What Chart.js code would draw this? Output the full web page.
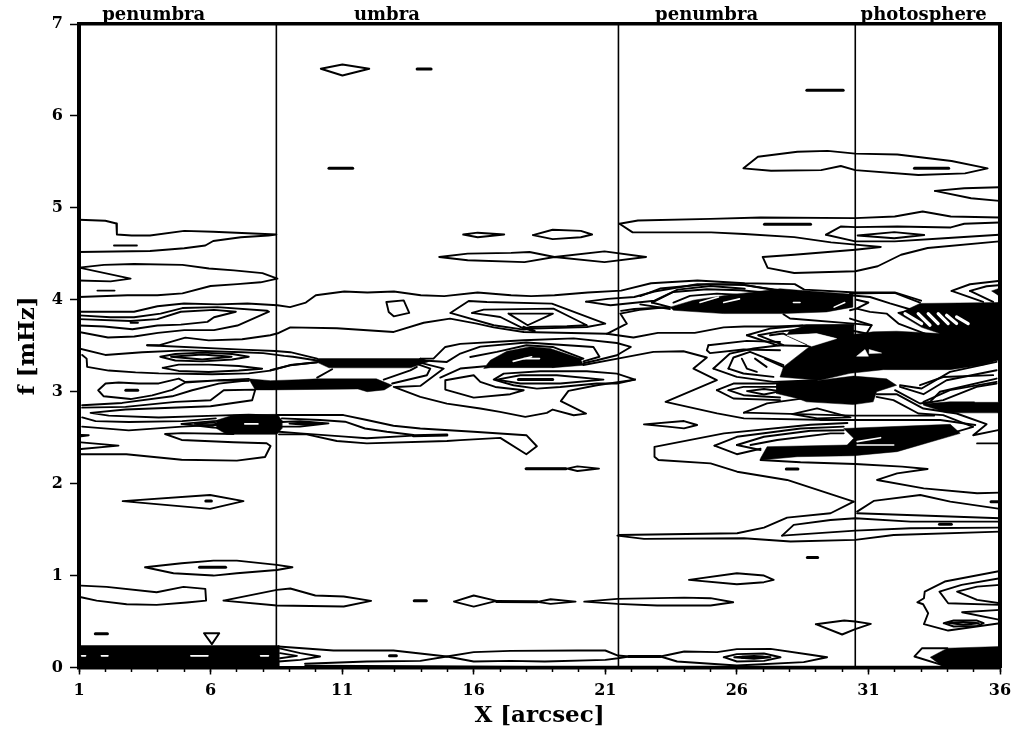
<!DOCTYPE html>
<html>
<head>
<meta charset="utf-8">
<title>f [mHz] vs X [arcsec]</title>
<script src="https://cdn.jsdelivr.net/npm/chart.js@4"></script>
<style>
  html, body { margin: 0; padding: 0; background: #fff; }
  canvas { display: block; }
</style>
</head>
<body>
<canvas id="contour-chart" width="1022" height="730"></canvas>
<script>
const xTicks = [1, 6, 11, 16, 21, 26, 31, 36];
const xMinorTicks = [1,2,3,4,5,6,7,8,9,10,11,12,13,14,15,16,17,18,19,20,21,22,23,24,25,26,27,28,29,30,31,32,33,34,35,36];
const yTicks = [0, 1, 2, 3, 4, 5, 6, 7];
const regionNames = ['penumbra', 'umbra', 'penumbra', 'photosphere'];
const regionCentres = [3.84, 12.7, 24.85, 33.1];
const regionBoundaries = [8.5, 21.5, 30.5];

// contour lines, each one a list of [X arcsec, f mHz]
const penumbraLeftLines = [
  [[1,4.87],[2,4.86],[2.42,4.83],[2.44,4.71],[3,4.7],[3.7,4.7],[5,4.75],[6.1,4.74],[8.5,4.71],[8.2,4.7],[7.15,4.68],[6.1,4.64],[5.8,4.59],[5,4.56],[3.7,4.53],[1,4.52]],
  [[2.33,4.59],[3.2,4.59]],
  [[1,4.35],[1.95,4.38],[3.09,4.39],[4.93,4.38],[5.94,4.34],[6.89,4.32],[7.97,4.29],[8.54,4.23],[7.9,4.19],[7.02,4.17],[6,4.15],[4.93,4.07],[3.98,4.05],[2.84,4.05],[1,4.03]],
  [[1,4.35],[2.96,4.23],[2.2,4.2],[1,4.21]],
  [[1.7,4.1],[2.35,4.1]],
  [[1,3.83],[2.2,3.81],[3.09,3.81],[4.1,3.85],[4.93,3.91],[6.26,3.92],[8.16,3.88],[8.22,3.87],[7.02,3.72],[6.13,3.67],[5,3.67],[4,3.64],[3.1,3.6],[2.1,3.59],[1,3.65]],
  [[1,3.79],[2.96,3.77],[3.98,3.79],[4.87,3.87],[6.13,3.89],[6.96,3.87],[6.13,3.81],[5.88,3.76],[4.87,3.73],[3.98,3.72],[3.03,3.68],[1.95,3.71],[1,3.72]],
  [[2.96,3.75],[3.24,3.75]],
  [[1,3.47],[2,3.4],[3.4,3.43],[5,3.45],[7.2,3.43],[8,3.42],[8.8,3.39],[9.13,3.38],[10.05,3.34]],
  [[1.12,3.4],[1.29,3.36],[1.31,3.27],[2.13,3.23],[3.15,3.21],[4.03,3.2],[6.06,3.19],[7.45,3.2],[8.27,3.23],[9.03,3.29],[10.05,3.32]],
  [[4.09,3.38],[4.66,3.41],[5.68,3.425],[6.82,3.41],[7.45,3.38],[6.82,3.35],[5.68,3.33],[4.66,3.34],[4.09,3.38]],
  [[4.5,3.38],[5.68,3.405],[6.8,3.38],[5.68,3.35],[4.5,3.38]],
  [[4.18,3.26],[4.79,3.295],[5.93,3.295],[7.07,3.28],[7.96,3.25],[7.07,3.23],[5.93,3.215],[4.79,3.226],[4.18,3.26]],
  [[7.45,3.14],[5.04,3.106],[4.79,3.143],[4.03,3.09],[3.27,3.09],[2.51,3.1],[2.01,3.09],[1.73,3.016],[1.94,2.95],[2.96,2.92],[3.78,2.96],[4.54,3.02],[5.04,3.1],[6.31,3.125],[7.45,3.12]],
  [[1.12,2.853],[2.64,2.878],[4.54,2.95],[5.3,3.016],[6.31,3.088],[7.45,3.125]],
  [[1.12,2.827],[2.77,2.835],[4.67,2.889],[6,2.907],[6.5,3.016],[7.7,3.023],[7.58,2.907],[6,2.842],[2.77,2.806],[1.44,2.77],[2.13,2.74],[4.03,2.72],[6.2,2.74],[7.45,2.75],[8.59,2.74]],
  [[1.12,2.72],[1.63,2.68],[2.89,2.67],[4.92,2.68],[6.2,2.71]],
  [[1.12,2.62],[2.89,2.58],[4.92,2.62],[6.3,2.64]],
  [[4.9,2.65],[6.1,2.68],[6.9,2.69]],
  [[4.9,2.65],[6.1,2.61],[6.9,2.6]],
  [[5.4,2.65],[6.1,2.665],[6.3,2.65],[6.1,2.63],[5.4,2.65]],
  [[1.08,2.53],[1.37,2.527],[1.08,2.515]],
  [[1.08,2.449],[2.5,2.413],[1.08,2.377]],
  [[1.08,2.32],[2.8,2.32],[4.9,2.26],[7,2.25],[8.07,2.29],[8.28,2.41],[8.13,2.44],[6.87,2.45],[4.9,2.475],[4.27,2.54],[4.9,2.55],[6.87,2.54]],
  [[2.66,1.81],[5.98,1.877],[7.25,1.81],[5.98,1.725],[2.66,1.81]],
  [[3.51,1.09],[4.9,1.134],[6.11,1.163],[7,1.163],[8.52,1.116],[9.11,1.09],[8.52,1.06],[7,1.025],[6.11,1],[4.59,1.025],[3.51,1.09]],
  [[1.08,0.891],[2.05,0.877],[3.95,0.819],[4.97,0.877],[5.8,0.855],[5.83,0.728],[5.1,0.707],[3.95,0.681],[2.81,0.688],[1.67,0.728],[1.08,0.764]],
  [[5.75,0.373],[6.33,0.373],[6.05,0.254],[5.75,0.373]]
];

const umbraLines = [
  [[10.19,6.513],[11.01,6.56],[12.03,6.513],[11.01,6.44],[10.19,6.513]],
  [[15.6,4.71],[16.15,4.73],[17.16,4.71],[16.15,4.68],[15.6,4.71]],
  [[14.69,4.466],[15.77,4.502],[17.42,4.51],[18.12,4.52],[19.07,4.466],[20.97,4.527],[22.55,4.466],[20.97,4.41],[19.07,4.466],[17.93,4.41],[15.77,4.43],[14.69,4.466]],
  [[18.25,4.704],[19,4.762],[20.07,4.75],[20.5,4.71],[20.07,4.68],[19,4.66],[18.25,4.704]],
  [[1,3.87],[3.09,3.87],[3.98,3.93],[4.99,3.96],[6.26,3.95],[7.4,3.96],[8.54,3.94],[9.02,3.92],[9.62,3.97],[10,4.05],[11.08,4.09],[11.96,4.08],[12.97,4.09],[13.99,4.05],[14.88,4.04],[16.15,4.08],[17.42,4.05],[18.18,4.04],[19.07,4.05],[20.34,4.08],[21.6,4.1],[22.74,4.18],[24.5,4.21],[26.3,4.18],[28.2,4.17],[28.56,4.11],[30.5,4.08],[32,4.08],[33,3.99]],
  [[12.68,3.976],[13.34,3.994],[13.55,3.857],[12.96,3.82],[12.77,3.868],[12.68,3.976]],
  [[3.59,3.505],[4.03,3.505],[5.04,3.588],[5.93,3.559],[7.2,3.57],[8.27,3.614],[8.59,3.639],[9.03,3.7],[10.8,3.69],[12.96,3.65],[14.1,3.75],[15.1,3.795],[16.12,3.74],[16.76,3.7],[17.9,3.65],[21.06,3.63],[21.82,3.74],[21.57,3.85],[22.3,3.89],[23.4,3.92]],
  [[3.59,3.505],[7.2,3.458],[8.46,3.443],[9.03,3.43],[10.05,3.36]],
  [[15.11,3.857],[15.81,3.987],[16.5,3.976],[18.97,3.958],[21,3.741],[20.3,3.704],[18.27,3.686],[17.9,3.675],[16.76,3.723],[15.11,3.857]],
  [[15.93,3.857],[16.38,3.893],[19.03,3.904],[19.67,3.813],[20.3,3.723],[19.54,3.712],[18.15,3.704],[17.9,3.686],[17.01,3.813],[15.93,3.857]],
  [[17.32,3.85],[19.01,3.85],[18.05,3.723],[17.32,3.85]],
  [[13.97,3.36],[14.47,3.36],[14.92,3.487],[15.49,3.52],[17.9,3.56],[19.8,3.58],[21.44,3.53],[21.97,3.487],[21.44,3.397],[20.68,3.342],[20.17,3.31]],
  [[14.1,3.34],[14.98,3.324],[15.49,3.415],[16.25,3.49],[18,3.535],[20.55,3.487],[20.78,3.38],[20.17,3.33]],
  [[15.87,3.378],[16.88,3.434],[18,3.505],[19,3.487],[20.17,3.36],[19,3.27]],
  [[14.73,3.154],[15.49,3.252],[16.44,3.277]],
  [[20.17,3.29],[21.47,3.36],[22.83,3.433],[23.97,3.44],[24.86,3.372],[24.35,3.252],[25.24,3.125],[23.29,2.89],[25.25,2.764],[26.27,2.71],[29.56,2.692]],
  [[22.13,3.132],[21.44,3.197],[20.3,3.223],[18.53,3.223],[17.14,3.197],[16.76,3.132],[17.51,3.07],[18.4,3.034],[19.29,3.052],[20.68,3.089],[21.44,3.089],[22.13,3.132]],
  [[16.88,3.132],[17.77,3.179],[19.16,3.179],[20.93,3.132],[19.29,3.089],[17.77,3.089],[16.88,3.132]],
  [[22.13,3.132],[20.68,3.07],[19.6,3.009],[19.31,2.897],[20.27,2.762],[19.8,2.744],[19,2.806],[18.78,2.77],[17.96,2.726],[17,2.78],[16.25,2.817],[14.98,2.871],[13.97,2.944],[12.96,3.052]],
  [[14.92,3.125],[16,3.179],[16.25,3.107],[16.82,3.052],[17.9,3.016],[17.39,2.973],[16,2.936],[14.92,3.023],[14.92,3.125]],
  [[13.97,3.36],[14.22,3.33]],
  [[13.02,3.052],[13.97,3.063],[14.86,3.252],[13.84,3.324]],
  [[12.9,3.089],[14.22,3.179],[14.35,3.252],[13.72,3.313]],
  [[12.58,3.132],[13.59,3.233],[13.84,3.27]],
  [[10.05,3.154],[10.62,3.244]],
  [[8.27,3.233],[9.03,3.288],[10.05,3.32]],
  [[8.52,2.746],[11.05,2.746],[11.94,2.692],[12.95,2.63],[13.97,2.6],[16,2.565],[18,2.527],[18.4,2.407],[18,2.32],[17.01,2.498],[15.49,2.473],[14.98,2.464],[11.94,2.438],[10.8,2.464],[9.65,2.536],[8.6,2.536]],
  [[8.71,2.71],[10.16,2.692],[11.11,2.674],[11.87,2.6],[12.7,2.565],[13.71,2.529]],
  [[8.71,2.67],[9.4,2.68],[10.48,2.655],[9.4,2.62],[8.71,2.62]],
  [[9,2.655],[9.6,2.665],[10.2,2.655],[9.6,2.64],[9,2.655]],
  [[8.6,2.565],[9.41,2.547],[11.11,2.511],[11.94,2.493],[13.71,2.522]],
  [[17.97,2.163],[19.55,2.163],[19.94,2.188],[20.76,2.163],[19.94,2.138],[19.55,2.163]],
  [[6.49,0.728],[8.52,0.844],[9.03,0.859],[9.98,0.783],[11.06,0.772],[12.1,0.725],[11.06,0.663],[8.52,0.674],[6.49,0.728]],
  [[15.25,0.717],[16,0.783],[16.87,0.725],[16,0.663],[15.25,0.717]],
  [[18.42,0.714],[18.92,0.743],[19.87,0.717],[18.92,0.692],[18.42,0.714]],
  [[8.58,0.228],[10.67,0.185],[12.95,0.185],[14.98,0.12],[16,0.167],[17.4,0.181],[19.94,0.185],[21,0.185],[21.48,0.13],[21.9,0.12]],
  [[9.59,0.04],[11.94,0.065],[13.97,0.072],[14.98,0.12],[16,0.065],[17.4,0.072],[18.7,0.065],[21,0.083],[21.48,0.101],[21.9,0.12]],
  [[8.58,0.21],[9.41,0.156],[10.16,0.12],[9.41,0.083],[8.58,0.065]],
  [[8.64,0.156],[9.28,0.127],[8.64,0.101]],
  [[9.6,0.02],[18,0.01],[36,0.01]]
];

const penumbraRightLines = [
  [[20.27,3.98],[21.09,4.01],[22.1,4.03],[22.87,4.09],[24.5,4.17],[26.3,4.16],[28.2,4.08]],
  [[20.27,3.98],[21.2,3.94],[21.85,3.96],[22.87,3.99],[23.75,4.11],[25,4.15],[26.3,4.12]],
  [[22.33,4.04],[23.08,4.122],[24.86,4.169],[26.12,4.169],[27.64,4.096],[28.9,4.067]],
  [[22.77,3.97],[23.59,4.085],[24.86,4.114],[26.12,4.103],[27.64,4.067]],
  [[22.77,3.97],[23.46,3.92]],
  [[23.59,3.97],[24.22,4.042],[25.24,4.067],[26.38,4.05]],
  [[21.06,3.63],[22.07,3.59],[23,3.64],[24.4,3.64],[25.5,3.7],[26.28,3.71],[27.5,3.71],[28.5,3.72]],
  [[21.6,3.88],[22.1,3.9],[23.4,3.92]],
  [[22.33,3.95],[23.46,3.9]],
  [[21.54,4.827],[22.24,4.863],[25,4.88],[26.9,4.895],[30.5,4.888],[32,4.906],[33.06,4.96],[34.13,4.906],[35.97,4.895]],
  [[21.54,4.827],[22.04,4.733],[25.02,4.733],[26.28,4.715],[28.18,4.682],[29.58,4.625],[30.5,4.6],[31.47,4.574],[30.5,4.545],[28.18,4.49],[26.98,4.466],[27.17,4.347],[28.18,4.292],[30.5,4.31],[31.35,4.365],[32.24,4.49],[33.25,4.563],[35.97,4.635]],
  [[26.25,5.43],[26.8,5.556],[28.3,5.61],[29.45,5.62],[30.5,5.59],[32.1,5.58],[34.16,5.51],[35.53,5.43],[34.67,5.375],[32.9,5.357],[30.5,5.41],[29.95,5.455],[29.2,5.41],[27.3,5.404],[26.25,5.43]],
  [[24.92,3.506],[24.86,3.451],[24.98,3.42],[26.25,3.459],[27.64,3.451]],
  [[24.92,3.506],[26.38,3.553],[27.64,3.54]],
  [[26.38,3.614],[27.26,3.687],[28.65,3.723],[30.43,3.723]],
  [[26.38,3.614],[27.52,3.506],[28.84,3.495]],
  [[26.82,3.614],[27.52,3.651],[28.65,3.687]],
  [[26.82,3.614],[27.77,3.506]],
  [[27.26,3.614],[27.77,3.633],[28.65,3.517]],
  [[25.11,3.252],[25.74,3.415],[26.63,3.47],[27.64,3.506]],
  [[25.11,3.252],[26,3.162],[27.39,3.107],[29.03,3.125]],
  [[25.68,3.252],[25.87,3.372],[26.5,3.433],[27.77,3.288]],
  [[25.68,3.252],[26.25,3.198],[27.39,3.162]],
  [[26.19,3.36],[26.38,3.252],[26.76,3.216]],
  [[26.69,3.36],[27.13,3.27]],
  [[27.07,3.36],[27.77,3.27]],
  [[25.24,3.017],[25.87,3.089],[27.39,3.089],[29.03,3.125]],
  [[25.24,3.017],[25.87,2.926],[27.64,2.908]],
  [[25.68,3.017],[26.25,3.053],[27.64,3.053]],
  [[25.68,3.017],[26.25,2.962],[27.64,2.937]],
  [[26.39,3.007],[27.03,3.03],[27.66,3.007],[27.03,2.97],[26.39,3.007]],
  [[26.27,2.772],[27.15,2.873],[28.6,2.93]],
  [[26.27,2.772],[30.44,2.74],[33.5,2.74]],
  [[28.1,2.757],[29.05,2.819],[30.32,2.721],[29.05,2.71],[28.1,2.757]],
  [[22.47,2.645],[23.99,2.681],[24.49,2.638],[23.99,2.601],[23.37,2.62],[22.47,2.645]],
  [[30.44,1.804],[27.91,2.04],[26.01,2.13],[25,2.22],[23.02,2.257],[22.87,2.293],[22.87,2.4],[25.51,2.547],[28.8,2.64],[30.2,2.66]],
  [[25.15,2.413],[26,2.51],[28.42,2.6],[30.06,2.62]],
  [[25.15,2.413],[26,2.32],[26.9,2.38]],
  [[26,2.42],[27.03,2.51],[28.8,2.576],[30.06,2.58]],
  [[26,2.42],[26.9,2.366]],
  [[26.52,2.42],[27.53,2.475],[29.56,2.547],[30.06,2.547]],
  [[26.9,2.257],[28.42,2.232],[30.5,2.214],[32.28,2.185],[33.25,2.159],[32.09,2.112],[31.33,2.04],[33.1,1.949],[35.13,1.895],[36,1.902]],
  [[21.51,1.442],[26.01,1.46],[27.03,1.522],[27.91,1.63],[29.56,1.678],[30.44,1.804]],
  [[21.46,1.435],[22.47,1.399],[26.27,1.406],[28.04,1.37],[30.5,1.388],[31.96,1.442],[36,1.478]],
  [[27.72,1.435],[28.16,1.551],[29.56,1.605],[30.5,1.623],[32.6,1.587],[36,1.587]],
  [[27.72,1.435],[30.5,1.489],[32.6,1.514],[36,1.522]],
  [[20.2,0.717],[21.46,0.746],[24,0.76],[25,0.754],[25.86,0.71],[25,0.674],[22.97,0.674],[21.46,0.692],[20.2,0.717]],
  [[24.18,0.953],[26,1.025],[27.03,1],[27.4,0.953],[27.03,0.928],[26,0.906],[24.18,0.953]],
  [[29,0.471],[30.08,0.511],[30.5,0.5],[31.09,0.475],[30.5,0.417],[30,0.359],[29,0.471]],
  [[21.9,0.12],[23.1,0.12],[24,0.174],[25.25,0.167],[26,0.2],[27.28,0.203],[28.8,0.138],[29.43,0.112],[28.54,0.058],[26,0.022],[23.73,0.065],[23.1,0.12]],
  [[25.5,0.112],[26,0.145],[27.03,0.152],[27.66,0.112],[27.03,0.072],[26,0.065],[25.5,0.112]],
  [[25.9,0.112],[26.65,0.127],[27.28,0.112],[26.65,0.094],[25.9,0.112]]
];

const photosphereLines = [
  [[33.53,5.185],[34.64,5.214],[35.97,5.224]],
  [[33.53,5.185],[34.9,5.105],[35.97,5.076]],
  [[29.39,4.708],[29.96,4.798],[30.5,4.79],[32.1,4.798],[34.13,4.787],[34.64,4.827],[35.97,4.84]],
  [[29.39,4.708],[30.5,4.635],[32,4.635],[33.88,4.67],[35.97,4.708]],
  [[30.59,4.7],[31.98,4.736],[33.12,4.704],[31.98,4.67],[30.59,4.7]],
  [[34.16,4.096],[34.86,4.169],[35.93,4.205]],
  [[34.16,4.096],[35.36,3.977]],
  [[34.86,4.096],[35.49,4.147],[35.93,4.158]],
  [[34.86,4.096],[35.74,3.977]],
  [[30.3,4.067],[32,4.075],[32.96,3.97]],
  [[30.55,4],[31,3.97],[30.55,3.904],[30.3,3.886]],
  [[30.3,4.05],[31.06,4.03],[31.82,3.96],[32.7,3.886],[32.14,3.857]],
  [[30.55,3.904],[31.06,3.868],[31.69,3.85],[32.14,3.741],[33.15,3.633]],
  [[30.3,3.796],[31.12,3.723],[30.93,3.633],[30.3,3.669]],
  [[27.77,3.843],[28.02,3.796],[30.43,3.741],[31.12,3.723]],
  [[32.2,3.071],[33.02,3.035],[34.1,3.216],[35.87,3.325]],
  [[32.2,3.053],[33.09,2.973],[33.97,3.125],[35.87,3.234]],
  [[32.96,3.071],[33.84,3.16],[35.74,3.18]],
  [[32.01,3.017],[32.96,2.872],[33.34,2.89],[33.72,3],[35.87,3.143]],
  [[33.09,2.89],[34.1,3.017],[35.87,3.107]],
  [[33.09,2.872],[33.84,2.908],[35.11,3.053],[35.87,3.09]],
  [[31.31,2.973],[32.07,2.973],[33.09,2.817],[34.35,2.763],[35.49,2.647],[34.98,2.527],[35.93,2.582]],
  [[31.31,2.944],[31.95,2.908],[32.9,2.763],[33.84,2.745],[34.98,2.618],[34.1,2.545]],
  [[29.18,2.692],[33.73,2.692],[35.06,2.638]],
  [[35.13,2.438],[36,2.438]],
  [[30.57,1.696],[31.2,1.812],[32.97,1.877],[34.11,1.804],[36,1.725]],
  [[30.57,1.678],[36,1.623]],
  [[36,1.05],[33.9,0.935],[33.14,0.826],[33.11,0.754],[32.86,0.71],[33.08,0.688],[33.27,0.59],[33.11,0.471],[34.03,0.402],[36,0.482]],
  [[36,0.971],[34.54,0.899],[33.7,0.826],[34.03,0.699],[36,0.681]],
  [[36,0.899],[35.13,0.88],[34.37,0.826],[35.13,0.736],[36,0.699]],
  [[36,0.627],[34.56,0.601],[36,0.518]],
  [[33.86,0.482],[34.24,0.511],[35.13,0.511],[35.38,0.482],[35.13,0.453],[34.24,0.446],[33.86,0.482]],
  [[34,0.485],[34.6,0.495],[35.2,0.482],[34.6,0.465],[34,0.485]],
  [[34,0.21],[33.04,0.21],[32.75,0.12],[34,0.01]]
];

// short marks where contours sit so tight they print as heavy dashes
const heavyMarks = [
  [[13.85,6.51],[14.38,6.51]],
  [[10.5,5.43],[11.4,5.43]],
  [[32.75,5.43],[34.05,5.43]],
  [[27.05,4.823],[28.8,4.823]],
  [[28.66,6.278],[30.04,6.278]],
  [[17.9,3.7],[18.3,3.66]],
  [[2.78,3.016],[3.23,3.016]],
  [[5.82,1.81],[6.03,1.81]],
  [[5.58,1.09],[6.57,1.09]],
  [[1.62,0.366],[2.08,0.366]],
  [[13.74,0.725],[14.2,0.725]],
  [[16.87,0.717],[18.42,0.714]],
  [[12.8,0.127],[13.06,0.127]],
  [[27.88,2.16],[28.32,2.16]],
  [[28.68,1.196],[29.07,1.196]],
  [[33.7,1.558],[34.15,1.558]],
  [[35.66,1.804],[36,1.804]],
  [[13.71,2.52],[14.98,2.529]],
  [[18,2.163],[19.5,2.163]],
  [[21.9,0.12],[23.1,0.12]],
  [[26.2,0.112],[27,0.112]],
  [[17.7,3.132],[19,3.132]]
];

// areas that print solid black
const solidAreas = [
  [[1,0.239],[8.6,0.239],[8.6,0],[1,0],[1,0.239]],
  [[6.23,2.69],[6.87,2.746],[8.52,2.754],[8.71,2.69],[8.71,2.6],[8.52,2.536],[6.61,2.536],[6.23,2.6],[6.23,2.69]],
  [[7.45,3.14],[8.27,3.12],[9.35,3.13],[10.05,3.14],[12.3,3.14],[12.9,3.07],[12.6,3.02],[11.95,3],[11.6,3.03],[8.27,3.02],[7.7,3.02],[7.45,3.14]],
  [[10.05,3.36],[13.97,3.36],[14.3,3.33],[13.6,3.26],[10.5,3.26],[10.05,3.32],[10.05,3.36]],
  [[16.63,3.342],[17.26,3.44],[18.15,3.49],[18.91,3.47],[20.05,3.36],[20.17,3.288],[19.03,3.262],[16.63,3.262],[16.38,3.252],[16.63,3.342]],
  [[23.46,3.92],[24.35,3.995],[25.62,4.05],[26.5,4.08],[27.64,4.12],[28.5,4.1],[30.4,4.06],[30.4,3.92],[29.41,3.868],[27.77,3.85],[25.49,3.85],[23.59,3.886],[23.46,3.92]],
  [[27.64,3.16],[27.77,3.27],[28.78,3.495],[30.17,3.614],[31.18,3.651],[32.07,3.658],[33.72,3.633],[33.02,3.7],[32.14,3.85],[32.96,3.96],[35.93,3.97],[35.93,3.343],[35.36,3.29],[34.1,3.24],[31.57,3.24],[30.3,3.2],[29.16,3.125],[27.64,3.16]],
  [[28,3.66],[28.6,3.72],[30.43,3.73],[30.43,3.6],[29.79,3.58],[29.03,3.63],[27.9,3.62],[28,3.66]],
  [[27.51,3.09],[27.51,2.98],[28.27,2.93],[28.65,2.89],[30.43,2.86],[31.18,2.89],[31.31,3],[32.07,3.07],[31.69,3.14],[30.43,3.17],[29.16,3.125],[27.51,3.09]],
  [[33.09,2.87],[34.1,2.89],[35.93,2.89],[35.93,2.77],[33.97,2.77],[33.09,2.853],[33.09,2.87]],
  [[26.9,2.275],[27.15,2.402],[30.19,2.42],[30.44,2.493],[30.06,2.6],[34.11,2.645],[34.49,2.547],[32.09,2.348],[30.44,2.304],[28.29,2.293],[26.9,2.257],[26.9,2.275]],
  [[34,0.21],[36,0.228],[36,0],[33.86,0],[33.35,0.112],[34,0.21]],
  [[35.68,4.096],[35.93,4.12],[35.93,4.05],[35.68,4.096]]
];

// white gaps left open inside the black areas
const whiteAreas = [
  [[27.9,3.614],[29.03,3.632],[29.79,3.578],[28.84,3.495],[27.9,3.614]],
  [[30.55,3.386],[30.87,3.459],[31,3.386],[30.55,3.386]],
  [[31.03,3.459],[31.5,3.42],[31.03,3.415],[31.03,3.459]],
  [[35.36,2.998],[35.93,2.89],[35.04,2.89],[35.36,2.998]]
];
const hatchStreaks = [
  [[32.39,3.85],[33.02,3.741]],
  [[32.89,3.85],[33.34,3.723]],
  [[33.27,3.85],[33.65,3.741]],
  [[33.65,3.85],[34.03,3.741]],
  [[33.97,3.832],[34.35,3.741]],
  [[34.35,3.814],[34.79,3.741]]
];
const whiteStreaks = [
  [[24.6,3.97],[25.3,4.03]],
  [[25.5,3.97],[26.1,4.01]],
  [[28.15,3.97],[28.4,3.97]],
  [[29.7,3.92],[30.1,3.97]],
  [[1.1,0.127],[1.25,0.127]],
  [[1.85,0.127],[2.1,0.127]],
  [[5.25,0.127],[5.9,0.127]],
  [[7.9,0.127],[8.2,0.127]],
  [[7.3,2.65],[7.8,2.65]],
  [[17.9,3.36],[18.5,3.36]],
  [[17.5,3.33],[18.2,3.38]],
  [[30.57,2.42],[31.96,2.42]],
  [[30.57,2.457],[31.46,2.5]]
];

function toPoints(path) {
  return path.map(p => ({ x: p[0], y: p[1] }));
}

function lineSet(path, width, colour) {
  return {
    data: toPoints(path),
    borderColor: colour,
    borderWidth: width,
    borderJoinStyle: 'round',
    borderCapStyle: 'round',
    fill: false
  };
}

function areaSet(path, colour) {
  return { data: toPoints(path), borderColor: colour, backgroundColor: colour, borderWidth: 0.5, fill: 'shape' };
}

// first dataset ends up on top, so the black areas go last
const datasets = [];
regionBoundaries.forEach(x => datasets.push(lineSet([[x, 0], [x, 7]], 1.6, '#000')));
hatchStreaks.forEach(p => datasets.push(lineSet(p, 3.2, '#fff')));
whiteStreaks.forEach(p => datasets.push(lineSet(p, 1.6, '#fff')));
whiteAreas.forEach(p => datasets.push(areaSet(p, '#fff')));
heavyMarks.forEach(p => datasets.push(lineSet(p, 3, '#000')));
[penumbraLeftLines, umbraLines, penumbraRightLines, photosphereLines].forEach(group => {
  group.forEach(p => datasets.push(lineSet(p, 1.9, '#000')));
});
solidAreas.forEach(p => datasets.push(areaSet(p, '#000')));

const tickFont = { family: 'DejaVu Serif', size: 16, weight: 'bold' };
const titleFont = { family: 'DejaVu Serif', size: 23, weight: 'bold' };

new Chart(document.getElementById('contour-chart'), {
  type: 'line',
  data: { datasets: datasets },
  options: {
    responsive: false,
    animation: false,
    events: [],
    layout: { padding: 0 },
    elements: { point: { radius: 0 }, line: { tension: 0 } },
    plugins: { legend: { display: false }, tooltip: { enabled: false } },
    scales: {
      x: {
        type: 'linear',
        position: 'bottom',
        min: 1,
        max: 36,
        afterBuildTicks: s => { s.ticks = xTicks.map(v => ({ value: v })); },
        afterFit: s => { s.height = 62.5; },
        ticks: { color: '#000', font: tickFont, padding: 7, maxRotation: 0, autoSkip: false },
        grid: { drawOnChartArea: false, color: '#000', tickLength: 7, tickWidth: 1.5 },
        border: { color: '#000', width: 3.5 },
        title: { display: true, text: 'X [arcsec]', color: '#000', font: titleFont, padding: 0 }
      },
      xMinor: {
        type: 'linear',
        axis: 'x',
        position: { y: 0 },
        min: 1,
        max: 36,
        afterBuildTicks: s => { s.ticks = xMinorTicks.map(v => ({ value: v })); },
        ticks: { display: false },
        grid: { drawOnChartArea: false, color: '#000', tickLength: 4, tickWidth: 1.5 },
        border: { display: false }
      },
      regions: {
        type: 'linear',
        axis: 'x',
        position: 'top',
        min: 1,
        max: 36,
        afterBuildTicks: s => { s.ticks = regionCentres.map(v => ({ value: v })); },
        afterFit: s => { s.height = 24; },
        ticks: {
          color: '#000',
          font: { family: 'DejaVu Serif', size: 18, weight: 'bold' },
          padding: -2,
          maxRotation: 0,
          autoSkip: false,
          callback: (v, i) => regionNames[i]
        },
        grid: { display: true, drawOnChartArea: false, drawTicks: false, color: '#000' },
        border: { color: '#000', width: 3.5 }
      },
      y: {
        position: 'left',
        min: 0,
        max: 7,
        afterBuildTicks: s => { s.ticks = yTicks.map(v => ({ value: v })); },
        afterFit: s => { s.width = 79; },
        ticks: { color: '#000', font: tickFont, padding: 7 },
        grid: { drawOnChartArea: false, color: '#000', tickLength: 9, tickWidth: 1.5 },
        border: { color: '#000', width: 4 },
        title: { display: true, text: 'f [mHz]', color: '#000', font: titleFont, padding: { top: 14, bottom: 0 } }
      },
      frameRight: {
        type: 'linear',
        axis: 'y',
        position: 'right',
        min: 0,
        max: 7,
        afterFit: s => { s.width = 22; },
        ticks: { display: false },
        grid: { display: true, drawOnChartArea: false, drawTicks: false, color: '#000' },
        border: { color: '#000', width: 4 }
      }
    }
  }
});
</script>
</body>
</html>
